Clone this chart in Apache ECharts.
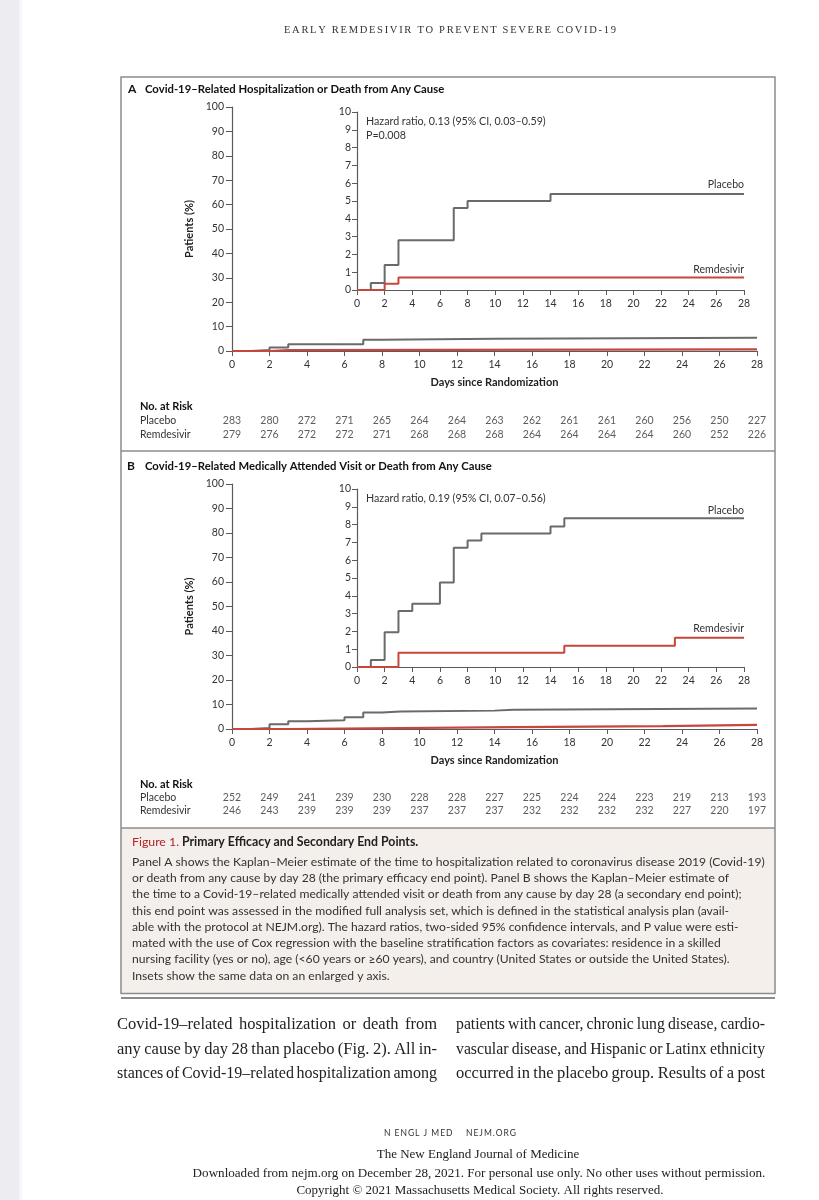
<!DOCTYPE html>
<html>
<head>
<meta charset="utf-8">
<script src="https://cdn.jsdelivr.net/npm/echarts@6/dist/echarts.min.js"></script>
<style>html,body{margin:0;padding:0;background:#fff;}#c{width:819px;height:1200px;}</style>
</head>
<body>
<div id="c"></div>
<script>
// ---------- DATA ----------
const dayTicks = [0,2,4,6,8,10,12,14,16,18,20,22,24,26,28];
// Kaplan-Meier step points [day, % patients]
const placeboA = [[0,0],[1,0.4],[2,1.4],[3,2.8],[7,4.6],[8,5.0],[14,5.4],[28,5.4]];
const remdesivirA = [[0,0],[2,0.35],[3,0.7],[28,0.7]];
const placeboB = [[0,0],[1,0.4],[2,1.95],[3,3.15],[4,3.55],[6,4.75],[7,6.7],[8,7.1],[9,7.5],[14,7.9],[15,8.35],[28,8.35]];
const remdesivirB = [[0,0],[3,0.8],[15,1.2],[23,1.65],[28,1.65]];
// Numbers at risk
const riskRows = ['Placebo','Remdesivir'];
const riskPlaceboA = [283,280,272,271,265,264,264,263,262,261,261,260,256,250,227];
const riskRemdesivirA = [279,276,272,272,271,268,268,268,264,264,264,264,260,252,226];
const riskPlaceboB = [252,249,241,239,230,228,228,227,225,224,224,223,219,213,193];
const riskRemdesivirB = [246,243,239,239,239,237,237,237,232,232,232,232,227,220,197];
// Texts
const headerText = 'EARLY REMDESIVIR TO PREVENT SEVERE COVID-19';
const titleA = 'Covid-19–Related Hospitalization or Death from Any Cause';
const titleB = 'Covid-19–Related Medically Attended Visit or Death from Any Cause';
const hazardA = ['Hazard ratio, 0.13 (95% CI, 0.03–0.59)','P=0.008'];
const hazardB = ['Hazard ratio, 0.19 (95% CI, 0.07–0.56)'];
const captionTitle = ['Figure 1.',' Primary Efficacy and Secondary End Points.'];
const captionLines = [
 'Panel A shows the Kaplan–Meier estimate of the time to hospitalization related to coronavirus disease 2019 (Covid-19)',
 'or death from any cause by day 28 (the primary efficacy end point). Panel B shows the Kaplan–Meier estimate of',
 'the time to a Covid-19–related medically attended visit or death from any cause by day 28 (a secondary end point);',
 'this end point was assessed in the modified full analysis set, which is defined in the statistical analysis plan (avail-',
 'able with the protocol at NEJM.org). The hazard ratios, two-sided 95% confidence intervals, and P value were esti-',
 'mated with the use of Cox regression with the baseline stratification factors as covariates: residence in a skilled',
 'nursing facility (yes or no), age (<60 years or ≥60 years), and country (United States or outside the United States).',
 'Insets show the same data on an enlarged y axis.'
];
const bodyLeft = ['Covid-19–related hospitalization or death from','any cause by day 28 than placebo (Fig. 2). All in-','stances of Covid-19–related hospitalization among'];
const bodyRight = ['patients with cancer, chronic lung disease, cardio-','vascular disease, and Hispanic or Latinx ethnicity','occurred in the placebo group. Results of a post'];
const footerLines = ['N ENGL J MED    NEJM.ORG','The New England Journal of Medicine','Downloaded from nejm.org on December 28, 2021. For personal use only. No other uses without permission.','Copyright © 2021 Massachusetts Medical Society. All rights reserved.'];

// ---------- STYLE ----------
const SANS = 'Lato';
const SERIF = 'Liberation Serif';
const GRAY = '#6a6a6a', RED = '#c6473b', AX = '#5a5a5a', TXT = '#333';

const chart = echarts.init(document.getElementById('c'), null, {renderer:'canvas'});
const mctx = document.createElement('canvas').getContext('2d');
function tw(s, font){ mctx.font = font; return mctx.measureText(s).width; }

function justified(line, x0, x1, y, size, family){
  const words = line.split(' ');
  let font, ws, sum, gap;
  do {
    font = size + 'px "' + family + '"';
    ws = words.map(w => tw(w, font));
    sum = ws.reduce((a,b)=>a+b,0);
    gap = words.length>1 ? (x1-x0-sum)/(words.length-1) : 0;
    size -= 0.25;
  } while (gap < 2.5 && size > 10);
  let x = x0; const out = [];
  words.forEach((w,i)=>{ out.push({type:'text', z:100, style:{text:w, x:x, y:y, font:font, fill:'#222', textVerticalAlign:'middle'}}); x += ws[i]+gap; });
  return out;
}
function spaced(str, cx, width, y, size, family, fill){
  const font = size + 'px "' + family + '"';
  const chars = str.split('');
  const ws = chars.map(c => tw(c, font));
  const sum = ws.reduce((a,b)=>a+b,0);
  const gap = (width - sum)/(chars.length-1);
  let x = cx - width/2; const out=[];
  chars.forEach((c,i)=>{ if(c!==' ') out.push({type:'text', z:100, style:{text:c, x:x, y:y, font:font, fill:fill, textVerticalAlign:'middle'}}); x += ws[i]+gap; });
  return out;
}

function mainX(grid){ return {gridIndex:grid, type:'value', min:0, max:28, interval:2,
  axisLine:{lineStyle:{color:AX, width:1.2}}, axisTick:{length:5, lineStyle:{color:AX}},
  axisLabel:{color:TXT, fontSize:10.5, fontFamily:SANS, margin:8}, splitLine:{show:false},
  name:'Days since Randomization', nameLocation:'middle', nameGap:26,
  nameTextStyle:{color:'#222', fontSize:11, fontWeight:'bold', fontFamily:SANS}}; }
function mainY(grid){ return {gridIndex:grid, type:'value', min:0, max:100, interval:10,
  axisLine:{show:true, lineStyle:{color:AX, width:1.2}}, axisTick:{show:true, length:6, lineStyle:{color:AX}},
  axisLabel:{color:TXT, fontSize:10.5, fontFamily:SANS, margin:8}, splitLine:{show:false},
  name:'Patients (%)', nameLocation:'middle', nameGap:36,
  nameTextStyle:{color:'#222', fontSize:11, fontWeight:'bold', fontFamily:SANS}}; }
function insetX(grid){ return {gridIndex:grid, type:'value', min:0, max:28, interval:2,
  axisLine:{lineStyle:{color:AX, width:1.2}}, axisTick:{length:5, lineStyle:{color:AX}},
  axisLabel:{color:TXT, fontSize:10.5, fontFamily:SANS, margin:8}, splitLine:{show:false}}; }
function insetY(grid){ return {gridIndex:grid, type:'value', min:0, max:10, interval:1,
  axisLine:{show:true, lineStyle:{color:AX, width:1.2}}, axisTick:{show:true, length:5, lineStyle:{color:AX}},
  axisLabel:{color:TXT, fontSize:10.5, fontFamily:SANS, margin:6}, splitLine:{show:false}}; }
function riskX(grid){ return {gridIndex:grid, type:'value', min:0, max:28, show:false}; }
function riskY(grid){ return {gridIndex:grid, type:'category', data:riskRows, inverse:true,
  axisLine:{show:false}, axisTick:{show:false},
  axisLabel:{interval:0, color:TXT, fontSize:10.5, fontFamily:SANS, align:'left', margin:92}}; }

function km(name, data, xi, color, width, labelOffset){
  const s = {type:'line', name:name, step:'end', xAxisIndex:xi, yAxisIndex:xi, data:data,
    showSymbol:false, symbolSize:0, lineStyle:{color:color, width:width}, itemStyle:{color:color},
    silent:true, animation:false, z:5};
  if (labelOffset != null) {
    s.endLabel = {show:true, formatter:name, align:'right', verticalAlign:'middle', distance:0,
      offset:[0, labelOffset], color:TXT, fontSize:10.5, fontFamily:SANS};
  }
  return s;
}
function risk(values, row, xi){
  return {type:'scatter', xAxisIndex:xi, yAxisIndex:xi, symbolSize:1, itemStyle:{color:'rgba(0,0,0,0)'},
    data: dayTicks.map((d,i)=>[d, row, values[i]]),
    label:{show:true, position:'inside', formatter:p=>String(p.value[2]), color:TXT, fontSize:10.5, fontFamily:SANS},
    silent:true, animation:false};
}

function txt(s, x, y, opts){ return {type:'text', z:100, style:Object.assign({text:s, x:x, y:y, fill:TXT, textVerticalAlign:'middle', font:'10.5px "'+SANS+'"'}, opts||{})}; }

const graphics = [];
// left grey strip of the photographed page
graphics.push({type:'rect', z:-10, shape:{x:0,y:0,width:19,height:1200}, style:{fill:'#ededf1'}});
graphics.push({type:'rect', z:-10, shape:{x:19,y:0,width:3,height:1200}, style:{fill:'#f6f6f8'}});
// caption background & frame
graphics.push({type:'rect', z:-9, shape:{x:121,y:828,width:654,height:165.5}, style:{fill:'#f4efea'}});
graphics.push({type:'rect', z:50, shape:{x:121,y:77,width:654,height:916.5}, style:{fill:'none', stroke:'#8c8c8c', lineWidth:1.5}});
graphics.push({type:'line', z:50, shape:{x1:121,y1:451,x2:775,y2:451}, style:{stroke:'#8c8c8c', lineWidth:1.5}});
graphics.push({type:'line', z:50, shape:{x1:121,y1:828,x2:775,y2:828}, style:{stroke:'#8c8c8c', lineWidth:1.5}});
graphics.push({type:'line', z:50, shape:{x1:121,y1:998,x2:775,y2:998}, style:{stroke:'#8c8c8c', lineWidth:2}});
// header
graphics.push(...spaced(headerText, 450, 332, 30, 10.5, SERIF, '#333'));
// panel titles
graphics.push(txt('A', 128, 89, {font:'bold 12px "'+SANS+'"', fill:'#111'}));
graphics.push(txt(titleA, 145, 89, {font:'bold 11.3px "'+SANS+'"', fill:'#111'}));
graphics.push(txt('B', 127, 466, {font:'bold 12px "'+SANS+'"', fill:'#111'}));
graphics.push(txt(titleB, 145, 466, {font:'bold 11.3px "'+SANS+'"', fill:'#111'}));
// hazard ratio notes
graphics.push(txt(hazardA[0], 366, 122, {font:'10.7px "'+SANS+'"'}));
graphics.push(txt(hazardA[1], 366, 135.5, {font:'10.7px "'+SANS+'"'}));
graphics.push(txt(hazardB[0], 366, 498.5, {font:'10.7px "'+SANS+'"'}));
// No. at risk headings
graphics.push(txt('No. at Risk', 140, 406, {font:'bold 11px "'+SANS+'"', fill:'#111'}));
graphics.push(txt('No. at Risk', 140, 784, {font:'bold 11px "'+SANS+'"', fill:'#111'}));
// caption
const capFont = '12.15px "'+SANS+'"';
graphics.push(txt(captionTitle[0], 132, 842, {font:'12.3px "'+SANS+'"', fill:'#b3242c'}));
const ftw = tw(captionTitle[0], '12.3px "'+SANS+'"');
graphics.push(txt(captionTitle[1], 132+ftw, 842, {font:'bold 12.3px "'+SANS+'"', fill:'#222'}));
captionLines.forEach((l,i)=> graphics.push(txt(l, 132, 861.7 + i*16.3, {font:capFont, fill:'#333'})));
// body text
bodyLeft.forEach((l,i)=> graphics.push(...justified(l, 117, 437, 1025 + i*24.5, 16.5, SERIF)));
bodyRight.forEach((l,i)=> graphics.push(...justified(l, 456, 765, 1025 + i*24.5, 16.5, SERIF)));
// footer
graphics.push(...spaced(footerLines[0], 450, 132, 1133, 8.5, SANS, '#333'));
graphics.push(txt(footerLines[1], 478, 1155, {font:'13px "'+SERIF+'"', fill:'#222', textAlign:'center'}));
graphics.push(txt(footerLines[2], 479, 1174, {font:'13.1px "'+SERIF+'"', fill:'#222', textAlign:'center'}));
graphics.push(txt(footerLines[3], 480, 1191, {font:'13px "'+SERIF+'"', fill:'#222', textAlign:'center'}));

const option = {
  backgroundColor:'#ffffff',
  animation:false,
  grid:[
    {left:232, top:107, width:525, height:244},
    {left:357, top:112, width:387, height:178},
    {left:232, top:414, width:525, height:28},
    {left:232, top:484, width:525, height:245},
    {left:357, top:489, width:387, height:178},
    {left:232, top:791, width:525, height:26}
  ],
  xAxis:[mainX(0), insetX(1), riskX(2), mainX(3), insetX(4), riskX(5)],
  yAxis:[mainY(0), insetY(1), riskY(2), mainY(3), insetY(4), riskY(5)],
  series:[
    km('Placebo', placeboA, 0, GRAY, 2, null),
    km('Remdesivir', remdesivirA, 0, RED, 2.2, null),
    km('Placebo', placeboA, 1, GRAY, 2, -9.5),
    km('Remdesivir', remdesivirA, 1, RED, 2, -8),
    risk(riskPlaceboA, 'Placebo', 2),
    risk(riskRemdesivirA, 'Remdesivir', 2),
    km('Placebo', placeboB, 3, GRAY, 2, null),
    km('Remdesivir', remdesivirB, 3, RED, 2.2, null),
    km('Placebo', placeboB, 4, GRAY, 2, -8),
    km('Remdesivir', remdesivirB, 4, RED, 2, -9),
    risk(riskPlaceboB, 'Placebo', 5),
    risk(riskRemdesivirB, 'Remdesivir', 5)
  ],
  graphic:{elements:graphics}
};
chart.setOption(option);
</script>
</body>
</html>
